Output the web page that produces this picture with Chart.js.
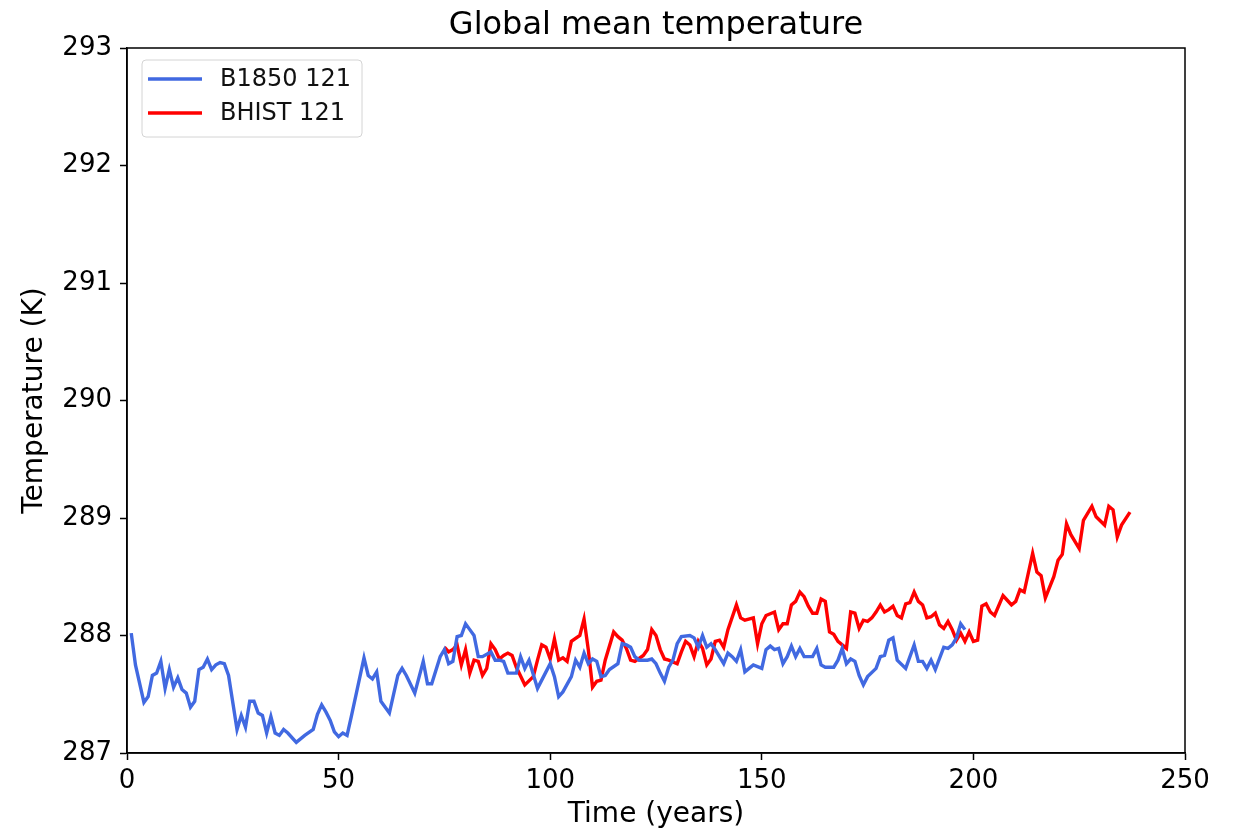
<!DOCTYPE html>
<html>
<head>
<meta charset="utf-8">
<title>Global mean temperature</title>
<script src="https://cdn.jsdelivr.net/npm/chart.js@4.4.1/dist/chart.umd.min.js"></script>
<style>
  html, body { margin: 0; padding: 0; background: #fff; }
  #wrap { width: 1235px; height: 834px; }
</style>
</head>
<body>
<div id="wrap"><canvas id="tempChart" width="1235" height="834"></canvas></div>
<script>
// Datos (anio, temperatura en K)
const b1850Years = [1, 2, 4, 5, 6, 7, 8, 9, 10, 11, 12, 13, 14, 15, 16, 17, 18, 19, 20, 21, 22, 23, 24, 26, 27, 28, 29, 30, 31, 32, 33, 34, 35, 36, 37, 38, 40, 42, 44, 45, 46, 47, 48, 49, 50, 51, 52, 53, 56, 57, 58, 59, 60, 62, 64, 65, 66, 68, 70, 71, 72, 74, 75, 76, 77, 78, 79, 80, 81, 82, 83, 84, 86, 87, 88, 89, 90, 92, 93, 94, 95, 97, 98, 100, 101, 102, 103, 105, 106, 107, 108, 109, 110, 111, 112, 113, 114, 116, 117, 118, 119, 120, 121, 123, 124, 125, 126, 127, 128, 129, 130, 131, 133, 134, 135, 136, 137, 138, 139, 141, 142, 143, 144, 145, 146, 147, 148, 150, 151, 152, 153, 154, 155, 156, 157, 158, 159, 160, 161, 162, 163, 164, 165, 167, 168, 169, 170, 171, 172, 173, 174, 175, 177, 178, 179, 180, 181, 182, 184, 186, 187, 188, 189, 190, 191, 193, 194, 195, 196, 197, 198];
const b1850Temps = [288.02, 287.75, 287.43, 287.48, 287.66, 287.68, 287.78, 287.55, 287.71, 287.56, 287.64, 287.54, 287.51, 287.39, 287.44, 287.71, 287.73, 287.80, 287.71, 287.75, 287.77, 287.76, 287.66, 287.20, 287.32, 287.22, 287.44, 287.44, 287.34, 287.32, 287.17, 287.31, 287.17, 287.15, 287.20, 287.17, 287.09, 287.15, 287.20, 287.33, 287.41, 287.35, 287.28, 287.18, 287.14, 287.17, 287.15, 287.31, 287.81, 287.66, 287.63, 287.69, 287.44, 287.34, 287.66, 287.72, 287.66, 287.51, 287.78, 287.59, 287.59, 287.82, 287.88, 287.76, 287.78, 287.99, 288.00, 288.10, 288.05, 288.00, 287.82, 287.82, 287.86, 287.79, 287.79, 287.78, 287.68, 287.68, 287.82, 287.72, 287.79, 287.55, 287.62, 287.76, 287.65, 287.48, 287.52, 287.65, 287.79, 287.73, 287.85, 287.76, 287.80, 287.78, 287.65, 287.66, 287.71, 287.76, 287.93, 287.92, 287.90, 287.82, 287.79, 287.79, 287.80, 287.76, 287.68, 287.61, 287.73, 287.79, 287.93, 287.99, 288.00, 287.98, 287.90, 288.00, 287.90, 287.93, 287.88, 287.76, 287.85, 287.82, 287.78, 287.88, 287.69, 287.72, 287.75, 287.72, 287.88, 287.91, 287.88, 287.89, 287.76, 287.82, 287.91, 287.82, 287.89, 287.82, 287.82, 287.82, 287.89, 287.75, 287.73, 287.73, 287.79, 287.89, 287.76, 287.80, 287.78, 287.66, 287.58, 287.65, 287.72, 287.82, 287.83, 287.96, 287.98, 287.79, 287.72, 287.92, 287.78, 287.78, 287.72, 287.79, 287.71, 287.90, 287.89, 287.92, 287.98, 288.10, 288.05];

const bhistYears = [75, 76, 77, 78, 79, 80, 81, 82, 83, 84, 85, 86, 87, 88, 89, 90, 91, 92, 94, 96, 97, 98, 99, 100, 101, 102, 103, 104, 105, 107, 108, 109, 110, 111, 112, 113, 115, 116, 117, 118, 119, 120, 122, 123, 124, 125, 126, 127, 128, 130, 131, 132, 133, 134, 135, 136, 137, 138, 139, 140, 141, 142, 144, 145, 146, 148, 149, 150, 151, 153, 154, 155, 156, 157, 158, 159, 160, 161, 162, 163, 164, 165, 166, 167, 168, 170, 171, 172, 173, 174, 175, 176, 177, 178, 179, 180, 181, 182, 183, 184, 185, 186, 187, 188, 189, 190, 191, 192, 193, 194, 195, 196, 197, 198, 199, 200, 201, 202, 203, 204, 205, 207, 208, 209, 210, 211, 212, 214, 215, 216, 217, 219, 220, 221, 222, 223, 225, 226, 228, 229, 231, 232, 233, 234, 235, 237];
const bhistTemps = [287.90, 287.86, 287.88, 287.92, 287.75, 287.88, 287.68, 287.79, 287.78, 287.66, 287.72, 287.93, 287.88, 287.80, 287.83, 287.85, 287.83, 287.73, 287.58, 287.65, 287.79, 287.92, 287.90, 287.80, 287.97, 287.79, 287.81, 287.78, 287.95, 288.00, 288.14, 287.88, 287.56, 287.61, 287.62, 287.79, 288.03, 287.99, 287.96, 287.89, 287.79, 287.78, 287.83, 287.88, 288.05, 288.00, 287.88, 287.80, 287.79, 287.76, 287.86, 287.95, 287.92, 287.82, 287.95, 287.89, 287.75, 287.80, 287.95, 287.96, 287.90, 288.05, 288.26, 288.15, 288.13, 288.15, 287.93, 288.10, 288.17, 288.20, 288.05, 288.10, 288.10, 288.26, 288.29, 288.37, 288.33, 288.25, 288.19, 288.19, 288.31, 288.29, 288.03, 288.01, 287.95, 287.89, 288.20, 288.19, 288.06, 288.13, 288.12, 288.15, 288.20, 288.26, 288.20, 288.22, 288.25, 288.17, 288.15, 288.27, 288.28, 288.37, 288.29, 288.26, 288.15, 288.16, 288.19, 288.09, 288.06, 288.12, 288.05, 287.96, 288.02, 287.95, 288.03, 287.95, 287.96, 288.25, 288.27, 288.20, 288.17, 288.34, 288.30, 288.26, 288.29, 288.39, 288.37, 288.70, 288.54, 288.51, 288.32, 288.50, 288.64, 288.69, 288.95, 288.86, 288.74, 288.98, 289.10, 289.01, 288.94, 289.10, 289.07, 288.84, 288.94, 289.05];

const xTicks = [0, 50, 100, 150, 200, 250];
const yTicks = [287, 288, 289, 290, 291, 292, 293];

const FUENTE = "'DejaVu Sans', sans-serif";

// Une los arreglos en puntos {x, y}
function aPuntos(xs, ys) {
    return xs.map((x, i) => ({ x: x, y: ys[i] }));
}

// Marco completo (estilo matplotlib)
const marcoPlugin = {
    id: 'marco',
    afterDraw(chart) {
        const { ctx, chartArea } = chart;
        ctx.save();
        ctx.strokeStyle = '#000';
        ctx.lineWidth = 1.5;
        ctx.strokeRect(chartArea.left, chartArea.top, chartArea.right - chartArea.left, chartArea.bottom - chartArea.top);
        ctx.restore();
    }
};

// Leyenda arriba a la izquierda dentro del area del grafico
const leyendaPlugin = {
    id: 'leyenda',
    afterDatasetsDraw(chart) {
        const { ctx, chartArea } = chart;
        const x0 = chartArea.left + 15;
        const y0 = chartArea.top + 12;
        const ancho = 220, alto = 77;
        ctx.save();
        ctx.beginPath();
        ctx.roundRect(x0, y0, ancho, alto, 4);
        ctx.fillStyle = 'rgba(255,255,255,0.8)';
        ctx.fill();
        ctx.strokeStyle = '#d4d4d4';
        ctx.lineWidth = 1;
        ctx.stroke();

        ctx.font = '24px ' + FUENTE;
        ctx.textBaseline = 'middle';
        ctx.fillStyle = '#111';
        chart.data.datasets.forEach((ds, i) => {
            const y = y0 + 19 + i * 34;
            ctx.beginPath();
            ctx.moveTo(x0 + 6, y);
            ctx.lineTo(x0 + 60, y);
            ctx.strokeStyle = ds.borderColor;
            ctx.lineWidth = ds.borderWidth;
            ctx.stroke();
            ctx.fillText(ds.label, x0 + 78, y + 1);
        });
        ctx.restore();
    }
};

function crearGrafico() {
    const ctx = document.getElementById('tempChart').getContext('2d');
    new Chart(ctx, {
        type: 'line',
        data: {
            datasets: [{
                label: 'B1850 121',
                data: aPuntos(b1850Years, b1850Temps),
                borderColor: '#4169e1',
                backgroundColor: '#4169e1',
                borderWidth: 3.4,
                pointRadius: 0,
                tension: 0,
                fill: false
            }, {
                label: 'BHIST 121',
                data: aPuntos(bhistYears, bhistTemps),
                borderColor: '#ff0000',
                backgroundColor: '#ff0000',
                borderWidth: 3.4,
                pointRadius: 0,
                tension: 0,
                fill: false
            }]
        },
        options: {
            responsive: false,
            animation: false,
            layout: { padding: { left: 0, right: 50, top: 0, bottom: 0 } },
            plugins: {
                title: {
                    display: true,
                    fullSize: false,
                    text: 'Global mean temperature',
                    color: '#000',
                    font: { family: FUENTE, size: 32, weight: 'normal' },
                    padding: { top: 6, bottom: 3.6 }
                },
                legend: { display: false },
                tooltip: { enabled: false }
            },
            scales: {
                x: {
                    type: 'linear',
                    min: 0,
                    max: 250,
                    afterBuildTicks: scale => { scale.ticks = xTicks.map(v => ({ value: v })); },
                    afterFit: scale => { scale.height = 81; },
                    grid: { drawOnChartArea: false, tickLength: 7, tickWidth: 1.5, color: '#000' },
                    border: { color: '#000', width: 1.5 },
                    ticks: { color: '#000', padding: 6, font: { family: FUENTE, size: 26 } },
                    title: {
                        display: true,
                        text: 'Time (years)',
                        color: '#000',
                        font: { family: FUENTE, size: 28 },
                        padding: { top: 0, bottom: 2 }
                    }
                },
                y: {
                    type: 'linear',
                    min: 287,
                    max: 293,
                    afterBuildTicks: scale => { scale.ticks = yTicks.map(v => ({ value: v })); },
                    afterFit: scale => { scale.width = 127; },
                    grid: { drawOnChartArea: false, tickLength: 7, tickWidth: 1.5, color: '#000' },
                    border: { color: '#000', width: 1.5 },
                    ticks: { color: '#000', padding: 8, font: { family: FUENTE, size: 26 } },
                    title: {
                        display: true,
                        text: 'Temperature (K)',
                        color: '#000',
                        font: { family: FUENTE, size: 28 },
                        padding: { top: 18, bottom: 0 }
                    }
                }
            }
        },
        plugins: [marcoPlugin, leyendaPlugin]
    });
}

window.onload = crearGrafico;
</script>
</body>
</html>
